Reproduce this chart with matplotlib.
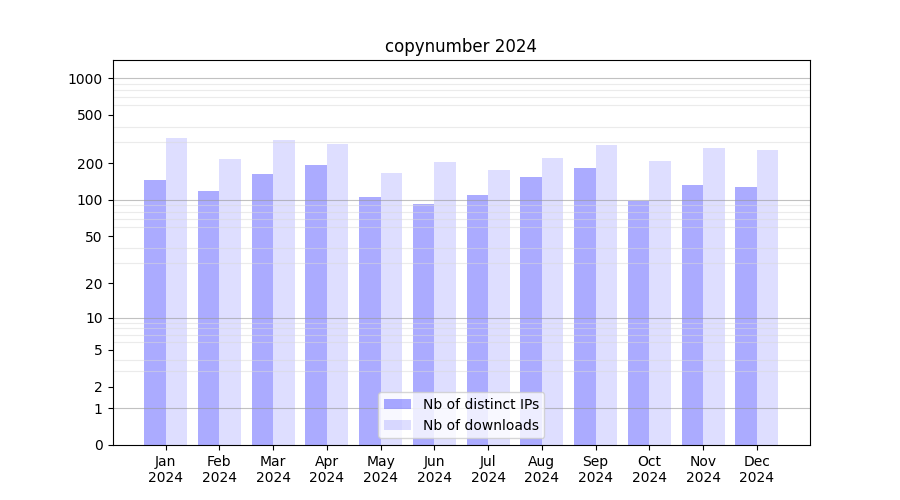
import numpy as np
import matplotlib
matplotlib.use('Agg')
import matplotlib.pyplot as plt

months = ['Jan', 'Feb', 'Mar', 'Apr', 'May', 'Jun',
          'Jul', 'Aug', 'Sep', 'Oct', 'Nov', 'Dec']
year = '2024'
distinct_ips = [146, 118, 163, 194, 106, 92, 110, 154, 183, 98, 133, 128]
downloads = [323, 217, 311, 288, 167, 205, 176, 221, 283, 209, 267, 257]
ytick_values = [0, 1, 2, 5, 10, 20, 50, 100, 200, 500, 1000]


def fwd(y):
    return np.log10(1 + np.clip(y, 0, None))


def inv(y):
    return 10 ** y - 1


fig = plt.figure(figsize=(9, 5), dpi=100)
ax = fig.add_subplot(111)
x = np.arange(len(months))
ax.bar(x - 0.2, distinct_ips, width=0.4, color='blue', alpha=0.33,
       label='Nb of distinct IPs')
ax.bar(x + 0.2, downloads, width=0.4, color='blue', alpha=0.13,
       label='Nb of downloads')

ax.set_yscale('function', functions=(fwd, inv))
ax.set_ylim(0, 1405)
ax.set_yticks(ytick_values)
ax.set_yticklabels([str(v) for v in ytick_values])

minor = [m * d for d in (1, 10, 100) for m in range(2, 10)]
ax.set_yticks(minor, minor=True)
ax.tick_params(axis='y', which='minor', length=0)
ax.grid(True, which='minor', axis='y', color='0.85', alpha=0.5, linewidth=0.8)
for d in (1, 10, 100, 1000):
    ax.axhline(d, color='0.6', alpha=0.6, linewidth=0.8)

ax.set_xticks(x)
ax.set_xticklabels([m + '\n' + year for m in months])
ax.set_title('copynumber 2024')
ax.legend(loc='lower center')

fig.savefig('out.png')
